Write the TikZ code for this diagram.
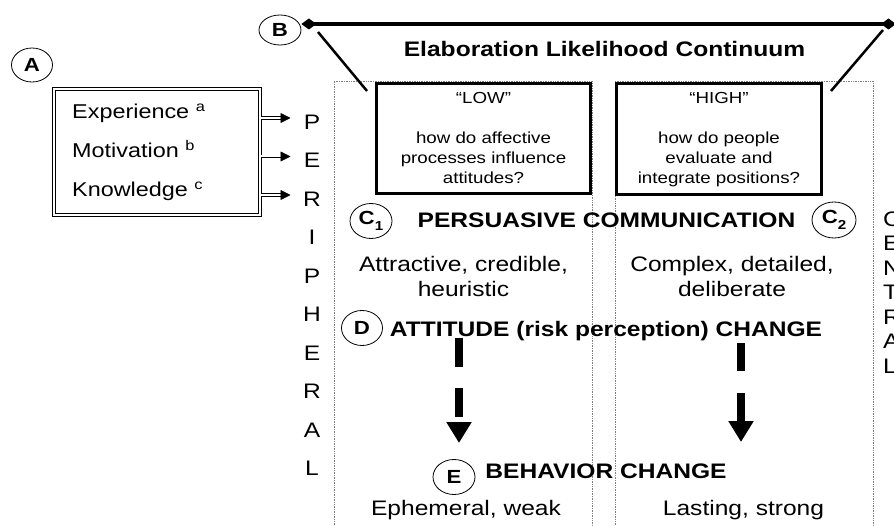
\documentclass[tikz,border=0pt]{standalone}
\usepackage{fontspec}
\setmainfont{Liberation Sans}[FakeStretch=1.17]
\usepackage{tikz}
\usetikzlibrary{arrows.meta,positioning,shapes.geometric}

\begin{document}
\begin{tikzpicture}[x=1pt,y=-1pt]
\tikzstyle{tag}=[draw,ellipse,line width=0.8pt,inner sep=0pt,font=\fontsize{19}{19}\selectfont\bfseries]
\tikzstyle{head}=[font=\fontsize{21}{25}\selectfont\bfseries,anchor=base,inner sep=0pt]
\tikzstyle{body}=[font=\fontsize{21}{25}\selectfont,inner sep=0pt]
\tikzstyle{factor}=[font=\fontsize{20}{24}\selectfont,anchor=base west,inner sep=0pt]
\tikzstyle{letter}=[font=\fontsize{21}{25}\selectfont,inner sep=0pt]
\tikzstyle{level}=[draw,line width=3pt,inner sep=0pt]
\tikzstyle{question}=[font=\fontsize{16}{20}\selectfont,align=center,anchor=north,inner sep=0pt]
\tikzstyle{column}=[draw=gray,densely dotted,line width=0.7pt]
\tikzstyle{route}=[line width=8pt,dash pattern=on 29pt off 21pt,-{Triangle[length=21pt,width=24pt]}]
\tikzstyle{feed}=[double,double distance=2pt,line width=0.8pt,-{Triangle[length=10pt,width=10pt]}]

\useasboundingbox (0,0) rectangle (894,526);

% the two routes
\draw[column] (334,530) -- (334,81) -- (592,81) -- (592,530);
\draw[column] (615,530) -- (615,81) -- (873,81) -- (873,530);

% A: what the receiver brings
\node[tag,minimum width=41pt,minimum height=34pt] (A) at (32,65) {A};
\node[draw,double,double distance=2pt,line width=1pt,minimum width=206pt,minimum height=126pt,inner sep=0pt] (factors) at (157,152) {};
\node[factor] (exp) at (72,119) {Experience \textsuperscript{a}};
\node[factor] (mot) at (72,158) {Motivation \textsuperscript{b}};
\node[factor] (know) at (72,197) {Knowledge \textsuperscript{c}};

\foreach \ch [count=\i from 0] in {P,E,R,I,P,H,E,R,A,L}
  \node[letter] (p\i) at (312,{122+38.5*\i}) {\ch};
\foreach \ch [count=\i from 0] in {C,E,N,T,R,A,L}
  \node[letter,anchor=west] (c\i) at (883,{219+24.5*\i}) {\ch};

\foreach \i in {0,1,2}
  \draw[feed] (factors.east |- p\i.west) ++(0,-4) -- ++(30,0);

% B: the continuum
\node[tag,minimum width=42pt,minimum height=30pt] (B) at (280,30) {B};
\coordinate (hi) at (896,24);
\draw[line width=4.5pt,{Diamond[length=15pt,width=11pt]}-{Diamond[length=15pt,width=11pt]}] (B.east |- hi) -- (hi);
\node[head] (title) at (604.5,57) {Elaboration Likelihood Continuum};

\node[level,minimum width=214pt,minimum height=110pt] (low) at (483.5,138.5) {};
\node[level,minimum width=205pt,minimum height=111pt] (high) at (719,139) {};
\node[question] (lowq) at (483.5,92.3) {“LOW”\\[20pt]how do affective\\processes influence\\attitudes?};
\node[question] (highq) at (719,92.3) {“HIGH”\\[20pt]how do people\\evaluate and\\integrate positions?};

\coordinate (lowtop) at (318,32);
\coordinate (lowfoot) at (367,91);
\coordinate (hightop) at (883,30);
\coordinate (highfoot) at (831,91);
\draw[line width=2.5pt] (lowtop) -- (lowfoot);
\draw[line width=2.5pt] (hightop) -- (highfoot);

% C: the message
\node[tag,minimum width=42pt,minimum height=35pt] (C1) at (371,221) {C\raisebox{-6pt}{\fontsize{13}{13}\selectfont 1}};
\node[tag,minimum width=44pt,minimum height=36pt] (C2) at (834,220) {C\raisebox{-6pt}{\fontsize{13}{13}\selectfont 2}};
\node[head] (persuasion) at (606.5,227.5) {PERSUASIVE COMMUNICATION};
\node[body,align=center,anchor=north] (lowmsg) at (463.5,256.5) {Attractive, credible,\\heuristic};
\node[body,align=center,anchor=north] (highmsg) at (732,256.5) {Complex, detailed,\\deliberate};

% D and E
\node[tag,minimum width=41pt,minimum height=35pt] (D) at (362,328) {D};
\node[head] (attitude) at (606,336.5) {ATTITUDE (risk perception) CHANGE};
\coordinate (lowfrom) at (459,338);
\coordinate (lowto) at (459,443);
\coordinate (highfrom) at (741,343);
\coordinate (highto) at (741,442);
\draw[route] (lowfrom) -- (lowto);
\draw[route,dash pattern=on 28pt off 22pt] (highfrom) -- (highto);

\node[tag,minimum width=42pt,minimum height=35pt] (E) at (454,477) {E};
\node[head] (behavior) at (606,478.5) {BEHAVIOR CHANGE};
\node[body,anchor=base] (lowout) at (466,515) {Ephemeral, weak};
\node[body,anchor=base] (highout) at (743.5,515) {Lasting, strong};
\end{tikzpicture}
\end{document}
